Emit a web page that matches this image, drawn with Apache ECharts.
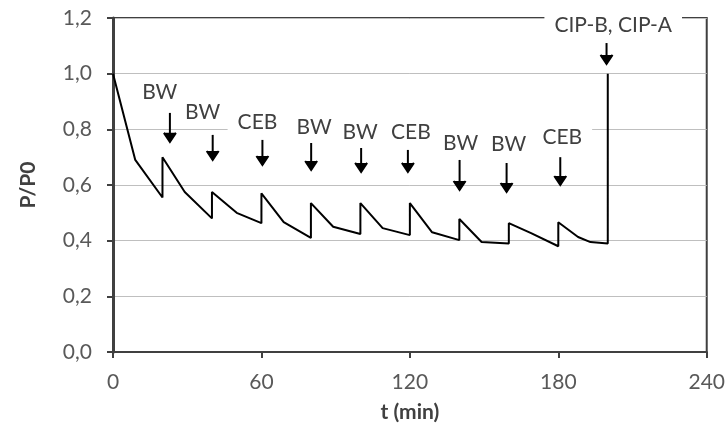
<!DOCTYPE html>
<html>
<head>
<meta charset="utf-8">
<script src="https://cdn.jsdelivr.net/npm/echarts@6/dist/echarts.min.js"></script>
<style>
  html, body { margin: 0; padding: 0; background: #fff; }
  #chart { width: 728px; height: 435px; }
</style>
</head>
<body>
<div id="chart"></div>
<script>
// P/P0 vs time, filtration cycles with backwash (BW), CEB and CIP
var tValues = [0, 9, 20, 20, 29, 40, 40, 50, 60, 60, 69, 80, 80, 89, 100, 100, 109, 120, 120, 129, 140, 140, 149, 160, 160, 169, 180, 180, 188, 193, 200, 200];
var pValues = [1.0, 0.69, 0.555, 0.70, 0.575, 0.48, 0.575, 0.50, 0.463, 0.57, 0.467, 0.41, 0.535, 0.45, 0.424, 0.535, 0.445, 0.42, 0.535, 0.43, 0.402, 0.478, 0.395, 0.39, 0.463, 0.427, 0.38, 0.466, 0.413, 0.395, 0.39, 1.0];

// annotations: label, arrow time, arrow top/bottom, label time/height
var annoText = ['BW', 'BW', 'CEB', 'BW', 'BW', 'CEB', 'BW', 'BW', 'CEB', 'CIP-B, CIP-A'];
var annoT = [23, 40.3, 60.4, 80.1, 100.3, 119.2, 140.1, 159.1, 180.8, 199.5];
var annoTop = [0.859, 0.78, 0.762, 0.751, 0.733, 0.726, 0.69, 0.679, 0.70, 1.11];
var annoBottom = [0.755, 0.69, 0.672, 0.654, 0.647, 0.647, 0.582, 0.575, 0.60, 1.035];
var annoTextT = [18.9, 36.2, 58.4, 81.3, 99.9, 120.4, 140.5, 159.9, 181.6, 202.2];
var annoTextY = [0.934, 0.862, 0.826, 0.808, 0.79, 0.79, 0.751, 0.747, 0.773, 1.175];

var xTicks = [0, 60, 120, 180, 240];

var lineData = tValues.map(function (t, i) { return [t, pValues[i]]; });
var annoData = annoT.map(function (t, i) {
  return [t, annoTop[i], annoBottom[i], annoTextT[i], annoTextY[i], i];
});

var FONT = 'Lato, "Open Sans", sans-serif';
var FS = 21;

var myChart = echarts.init(document.getElementById('chart'));

function renderArrow(params, api) {
  var idx = api.value(5);
  var top = api.coord([api.value(0), api.value(1)]);
  var bot = api.coord([api.value(0), api.value(2)]);
  var txt = api.coord([api.value(3), api.value(4)]);
  var lineStyle = { stroke: '#000', lineWidth: 2, lineJoin: 'miter' };
  return {
    type: 'group',
    children: [
      {
        type: 'text',
        style: {
          text: annoText[idx],
          x: txt[0],
          y: txt[1],
          align: 'center',
          verticalAlign: 'middle',
          font: FS + 'px ' + FONT,
          fill: '#404040',
          backgroundColor: '#fff',
          padding: [10, 10, 0, 10]
        }
      },
      {
        type: 'line',
        shape: { x1: top[0], y1: top[1], x2: bot[0], y2: bot[1] },
        style: lineStyle
      },
      {
        type: 'polyline',
        shape: { points: [[bot[0] - 6, bot[1] - 9], [bot[0], bot[1]], [bot[0] + 6, bot[1] - 9]] },
        style: lineStyle
      }
    ]
  };
}

var option = {
  animation: false,
  textStyle: { fontFamily: FONT },
  grid: {
    left: 113,
    right: 20,
    top: 18,
    bottom: 83,
    show: true,
    borderColor: '#404040',
    borderWidth: 2
  },
  xAxis: {
    type: 'value',
    min: 0,
    max: 240,
    interval: 60,
    name: 't (min)',
    nameLocation: 'middle',
    nameGap: 50,
    nameTextStyle: { fontSize: FS, fontWeight: 'bold', color: '#404040', fontFamily: FONT },
    axisLine: { lineStyle: { color: '#404040', width: 2 } },
    axisTick: { show: true, length: 6, lineStyle: { color: '#404040', width: 2 } },
    axisLabel: {
      fontSize: FS, color: '#595959', margin: 20, fontFamily: FONT,
      formatter: function (v) { return xTicks.indexOf(v) >= 0 ? String(v) : ''; }
    },
    splitLine: { show: false }
  },
  yAxis: {
    type: 'value',
    min: 0,
    max: 1.2,
    interval: 0.2,
    name: 'P/P0',
    nameLocation: 'middle',
    nameGap: 74,
    nameTextStyle: { fontSize: FS, fontWeight: 'bold', color: '#404040', fontFamily: FONT },
    axisLine: { lineStyle: { color: '#404040', width: 3 } },
    axisTick: { show: true, length: 6, lineStyle: { color: '#404040', width: 2 } },
    axisLabel: {
      fontSize: FS, color: '#595959', margin: 21, fontFamily: FONT,
      formatter: function (v) { return v.toFixed(1).replace('.', ','); }
    },
    splitLine: { show: true, lineStyle: { color: '#bfbfbf', width: 1 } }
  },
  series: [
    {
      name: 'P/P0',
      type: 'line',
      data: lineData,
      showSymbol: false,
      symbol: 'none',
      lineStyle: { color: '#000', width: 2 },
      z: 3
    },
    {
      name: 'events',
      type: 'custom',
      data: annoData,
      renderItem: renderArrow,
      clip: false,
      z: 4
    }
  ]
};

myChart.setOption(option);
</script>
</body>
</html>
